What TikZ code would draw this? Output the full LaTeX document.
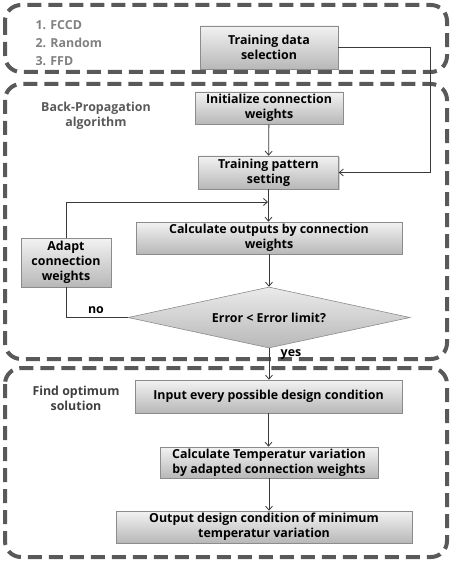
\documentclass[tikz,border=0pt]{standalone}
\usepackage{fontspec}
\setmainfont{Open Sans}
\usetikzlibrary{arrows.meta,shapes.geometric,shadows}
\definecolor{framegray}{HTML}{595959}
\definecolor{linegray}{HTML}{3A3A3A}
\definecolor{boxborder}{HTML}{8C8C8C}
\begin{document}
\begin{tikzpicture}[x=1pt,y=-1pt,
  every node/.style={font=\bfseries\fontsize{12.4}{15}\selectfont},
  frame/.style={draw=framegray,line width=4pt,dash pattern=on 14pt off 7pt,rounded corners=16pt},
  stepbox/.style={draw=boxborder,line width=0.6pt,top color=white!95!black,bottom color=black!28,
     align=center,inner sep=1pt,text=black,
     drop shadow={shadow xshift=1.2pt,shadow yshift=-1.2pt,opacity=0.35}},
  decide/.style={diamond,aspect=4.6,draw=boxborder,line width=0.6pt,top color=white!92!black,bottom color=black!28,
     inner sep=0pt,align=center},
  conn/.style={draw=linegray,line width=0.8pt},
  arr/.style={conn,-{Straight Barb[length=4pt,width=7pt]}},
  grouplabel/.style={align=center}
]
\useasboundingbox (0,0) rectangle (451,564);
% frames
\draw[frame] (5,5) rectangle (447,72);
\draw[frame] (5,84) rectangle (447,359);
\draw[frame] (5,368) rectangle (447,557);
% group labels
\node[anchor=west,text=black!50] (m1) at (32,25) {1. FCCD};
\node[anchor=west,text=black!50] (m2) at (32,43) {2. Random};
\node[anchor=west,text=black!50] (m3) at (32,61) {3. FFD};
\node[grouplabel,text=framegray] (bp) at (96,116) {Back-Propagation\\algorithm};
\node[grouplabel,text=black!75] (fo) at (76,398) {Find optimum\\solution};
% steps
\node[stepbox,minimum width=138pt,minimum height=43pt] (sel) at (269,47.5) {Training data\\selection};
\node[stepbox,minimum width=148pt,minimum height=32pt] (init) at (269,108) {Initialize connection\\weights};
\node[stepbox,minimum width=140pt,minimum height=33pt] (tps) at (268.5,172.5) {Training pattern\\setting};
\node[stepbox,minimum width=266pt,minimum height=32pt] (calc) at (269,238) {Calculate outputs by connection\\weights};
\node[stepbox,minimum width=90pt,minimum height=49pt] (adapt) at (66,262.5) {Adapt\\connection\\weights};
\node[decide,minimum width=282pt,minimum height=61pt] (dec) at (269,317.5) {Error {<} Error limit?};
\node[stepbox,minimum width=267pt,minimum height=33pt] (inp) at (268.5,396.5) {Input every possible design condition};
\node[stepbox,minimum width=218pt,minimum height=31pt] (temp) at (269,462.5) {Calculate Temperatur variation\\by adapted connection weights};
\node[stepbox,minimum width=296pt,minimum height=32pt] (out) at (264,527) {Output design condition of minimum\\temperatur variation};
% connectors
\coordinate (c1) at (430,47.5);
\coordinate (j) at (268,202);
\coordinate (c2) at (66,202);
\coordinate (c3) at (66,317.5);
\draw[arr] (sel.east) -- (c1) |- (tps.east);
\draw[arr] (init) -- (tps);
\draw[arr] (tps.south) -- (tps.south |- calc.north);
\draw[arr] (adapt.north) -- (c2) -- (j);
\draw[arr] (calc.south) -- (calc.south |- dec.north);
\draw[conn] (dec.west) -- (c3) -- (adapt.south);
\node (no) at (96,310) {no};
\draw[arr] (dec.south) -- (dec.south |- inp.north);
\node (yes) at (291,355) {yes};
\draw[arr] (inp.south) -- (inp.south |- temp.north);
\draw[arr] (temp.south) -- (temp.south |- out.north);
\end{tikzpicture}
\end{document}
